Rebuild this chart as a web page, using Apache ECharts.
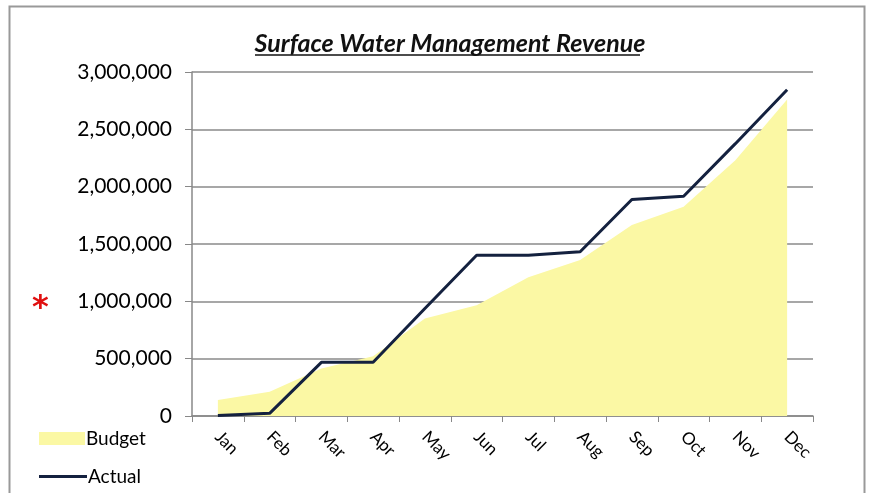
<!DOCTYPE html>
<html>
<head>
<meta charset="utf-8">
<script src="https://cdn.jsdelivr.net/npm/echarts@6/dist/echarts.min.js"></script>
<style>
  html, body { margin: 0; padding: 0; background: #fff; }
  #main { width: 873px; height: 493px; }
</style>
</head>
<body>
<div id="main"></div>
<script>
// monthly cumulative revenue
var months = ['Jan', 'Feb', 'Mar', 'Apr', 'May', 'Jun', 'Jul', 'Aug', 'Sep', 'Oct', 'Nov', 'Dec'];
var budget = [140000, 212000, 415000, 520000, 850000, 965000, 1210000, 1360000, 1665000, 1825000, 2230000, 2760000];
var actual = [5000, 23000, 468000, 468000, 938000, 1402000, 1402000, 1432000, 1888000, 1916000, 2375000, 2845000];
var yTicks = [0, 500000, 1000000, 1500000, 2000000, 2500000, 3000000];

var myChart = echarts.init(document.getElementById('main'));

var font = 'Lato, "Open Sans", sans-serif';
var legendText = { fontFamily: font, fontSize: 19, color: '#000', padding: [0, 0, 0, -4] };

myChart.setOption({
    animation: false,
    backgroundColor: '#fff',
    title: {
        text: 'Surface Water Management Revenue',
        left: 445,
        textAlign: 'center',
        top: 26,
        textStyle: { fontFamily: font, fontSize: 25, fontWeight: 'bold', fontStyle: 'italic', color: '#111' }
    },
    grid: { left: 192, right: 60, top: 72, bottom: 77 },
    legend: [
        {
            left: 34, top: 424,
            itemWidth: 46, itemHeight: 13,
            textStyle: legendText,
            data: [{ name: 'Budget', icon: 'rect' }]
        },
        {
            left: 34, top: 462,
            itemWidth: 48, itemHeight: 3,
            textStyle: legendText,
            data: [{ name: 'Actual', icon: 'rect' }]
        }
    ],
    xAxis: {
        type: 'category',
        data: months,
        axisLine: { lineStyle: { color: '#888', width: 1.5 } },
        axisTick: { show: true, length: 6, lineStyle: { color: '#888' } },
        axisLabel: { rotate: -45, fontFamily: font, fontSize: 17, color: '#000', margin: 18 }
    },
    yAxis: {
        type: 'value',
        min: yTicks[0],
        max: yTicks[yTicks.length - 1],
        interval: 500000,
        axisLine: { show: true, lineStyle: { color: '#888', width: 1.5 } },
        axisTick: { show: true, length: 7, lineStyle: { color: '#888' } },
        splitLine: { lineStyle: { color: '#8a8a8a', width: 1.5 } },
        axisLabel: {
            fontFamily: font, fontSize: 21, color: '#000', margin: 20,
            formatter: function (v) { return v.toLocaleString('en-US'); }
        }
    },
    graphic: [
        {   // outer frame
            type: 'rect', left: 7, top: 4,
            shape: { width: 855, height: 520 },
            style: { fill: 'none', stroke: '#999', lineWidth: 2 }, silent: true, z: -1
        },
        {   // title underline
            type: 'line',
            shape: { x1: 255, y1: 55, x2: 640, y2: 55 },
            style: { stroke: '#111', lineWidth: 1.3 }
        },
        {
            type: 'text', left: 32, top: 293,
            style: { text: '*', fill: '#e01010', font: 'bold 32px "DejaVu Sans", sans-serif' }
        }
    ],
    series: [
        {
            name: 'Budget',
            type: 'line',
            data: budget,
            symbol: 'none',
            lineStyle: { width: 0 },
            itemStyle: { color: '#fbf8a4' },
            areaStyle: { color: '#fbf8a4', opacity: 1 },
            z: 1
        },
        {
            name: 'Actual',
            type: 'line',
            data: actual,
            symbol: 'none',
            lineStyle: { width: 3, color: '#14213f' },
            itemStyle: { color: '#14213f' },
            z: 2
        }
    ]
});
</script>
</body>
</html>
